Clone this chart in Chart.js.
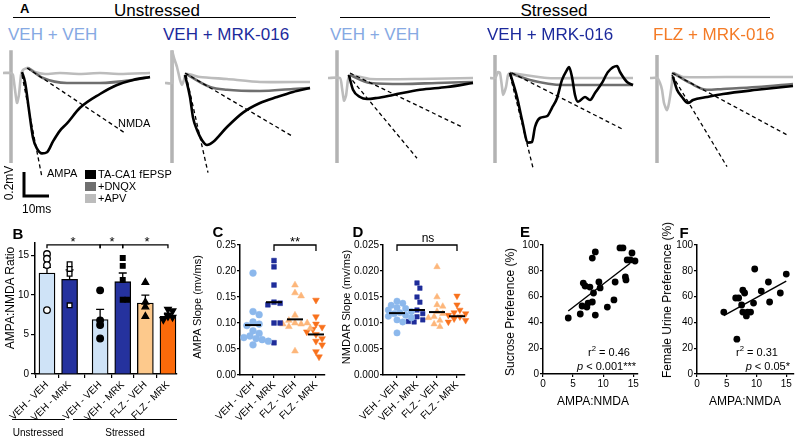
<!DOCTYPE html>
<html><head><meta charset="utf-8">
<script src="https://cdn.jsdelivr.net/npm/chart.js@4.4.1/dist/chart.umd.min.js"></script>
<style>
body{margin:0;background:#fff;}
#fig{position:relative;width:798px;height:440px;overflow:hidden;font-family:"Liberation Sans",Arial,sans-serif;color:#000;background:#fff;}
#fig canvas{position:absolute;z-index:1;}
.t{position:absolute;white-space:nowrap;line-height:1;z-index:2;}
.c{transform:translate(-50%,-50%);}
.l{transform:translate(0,-50%);}
.r{transform:translate(-100%,-50%);}
.v{transform:translate(-50%,-50%) rotate(-90deg);}
.hl{position:absolute;height:0;border-top:1.5px solid #000;z-index:2;}
.sw{position:absolute;width:11px;height:9px;z-index:2;}
.b{font-weight:bold;font-size:15px;}
sup{font-size:70%;line-height:0;}
</style></head><body><div id="fig">
<div class="t l" style="left:20px;top:8px;font-size:13px;font-weight:bold">A</div>
<div class="t c" style="left:157px;top:10px;font-size:17px">Unstressed</div>
<div class="hl" style="left:13px;top:17px;width:283px"></div>
<div class="t c" style="left:554px;top:10px;font-size:17px">Stressed</div>
<div class="hl" style="left:340px;top:17px;width:430px"></div>
<div class="t l" style="left:8px;top:34px;font-size:17px;color:#86a9e3">VEH + VEH</div>
<div class="t l" style="left:163px;top:34px;font-size:17px;color:#1c2a9c">VEH + MRK-016</div>
<div class="t l" style="left:330px;top:34px;font-size:17px;color:#86a9e3">VEH + VEH</div>
<div class="t l" style="left:487px;top:34px;font-size:17px;color:#1c2a9c">VEH + MRK-016</div>
<div class="t l" style="left:653px;top:34px;font-size:17px;color:#f47b26">FLZ + MRK-016</div>
<div class="t l" style="left:118px;top:123px;font-size:11px">NMDA</div>
<div class="t l" style="left:47px;top:173px;font-size:11px">AMPA</div>
<div class="sw" style="left:85px;top:170px;background:#000"></div>
<div class="t l" style="left:98px;top:174px;font-size:11px">TA-CA1 fEPSP</div>
<div class="sw" style="left:85px;top:182px;background:#6f6f6f"></div>
<div class="t l" style="left:98px;top:186px;font-size:11px">+DNQX</div>
<div class="sw" style="left:85px;top:194px;background:#bcbcbc"></div>
<div class="t l" style="left:98px;top:198px;font-size:11px">+APV</div>
<div class="t v" style="left:9px;top:183px;font-size:12px">0.2mV</div>
<div class="t l" style="left:22px;top:209px;font-size:12px">10ms</div>

<div class="t c b" style="left:18px;top:233px">B</div>
<div class="t c b" style="left:218px;top:231px">C</div>
<div class="t c b" style="left:358px;top:231px">D</div>
<div class="t c b" style="left:525px;top:231px">E</div>
<div class="t c b" style="left:684px;top:232px">F</div>

<div class="t v" style="left:10px;top:298px;font-size:12px">AMPA:NMDA Ratio</div>
<div class="t v" style="left:197px;top:307px;font-size:11px">AMPA Slope (mv/ms)</div>
<div class="t v" style="left:346px;top:307px;font-size:11px">NMDAR Slope (mv/ms)</div>
<div class="t v" style="left:510px;top:312px;font-size:12px">Sucrose Preference (%)</div>
<div class="t v" style="left:667px;top:300px;font-size:12px">Female Urine Preference (%)</div>
<div class="t c" style="left:593px;top:401px;font-size:12px">AMPA:NMDA</div>
<div class="t c" style="left:745px;top:401px;font-size:12px">AMPA:NMDA</div>

<div class="t c" style="left:73px;top:241px;font-size:13px">*</div>
<div class="t c" style="left:112px;top:241px;font-size:13px">*</div>
<div class="t c" style="left:147px;top:241px;font-size:13px">*</div>
<div class="t c" style="left:295px;top:241px;font-size:13px">**</div>
<div class="t c" style="left:428px;top:238px;font-size:12px">ns</div>

<div class="t r" style="left:630px;top:352px;font-size:11px">r<sup>2</sup> = 0.46</div>
<div class="t r" style="left:636px;top:366px;font-size:11px"><i>p</i> &lt; 0.001***</div>
<div class="t r" style="left:778px;top:352px;font-size:11px">r<sup>2</sup> = 0.31</div>
<div class="t r" style="left:790px;top:366px;font-size:11px"><i>p</i> &lt; 0.05*</div>

<div class="hl" style="left:12px;top:419px;width:53px"></div>
<div class="t c" style="left:38px;top:433px;font-size:10px">Unstressed</div>
<div class="hl" style="left:73px;top:419px;width:104px"></div>
<div class="t c" style="left:125px;top:433px;font-size:10px">Stressed</div>
</div>
<script>
// ---------- A: TA-CA1 field potentials, points are [ms after stimulus, mV] ----------
const stimTop = [0.19, 0.19, 0.19, 0.15, 0.15];
const stimBottom = [-0.75, -0.75, -0.75, -0.75, -0.75];
const apv = [
  [[-3.2,0],[0.05,0],[0.8,-0.017],[1.6,-0.14],[2.4,-0.25],[3.2,-0.18],[4.0,-0.017],[4.8,0.025],[6.8,0.042],[9.6,0.008],[13.6,-0.008],[19.6,0],[27.6,-0.008],[35.6,0],[43.6,-0.008],[55.6,0]],
  [[-2.8,-0.083],[0.05,-0.083],[0.1,0.175],[0.8,0.125],[2,0.05],[3.2,-0.058],[4,-0.1],[4.8,-0.058],[5.6,-0.008],[11.2,-0.033],[22,-0.05],[35.2,-0.075],[55.2,-0.075]],
  [[-3.6,-0.042],[1.2,-0.042],[2,-0.125],[2.8,-0.23],[3.6,-0.19],[4.4,-0.058],[5.2,-0.017],[13.2,-0.05],[33.2,-0.05],[54.4,-0.042]],
  [[-2,-0.042],[0.05,-0.042],[1.2,0.008],[2,0],[2.8,-0.117],[3.2,-0.183],[4.4,-0.117],[5.2,-0.017],[6,0],[20.8,-0.042],[34,-0.042],[55.2,-0.042]],
  [[-2.8,-0.042],[0.05,-0.042],[1.2,-0.083],[2,-0.14],[2.8,-0.25],[4,-0.31],[4.8,-0.25],[6,-0.083],[6.4,0],[10.4,-0.033],[33.2,-0.033],[54.4,-0.033]]
];
const dnqx = [
  [[6.8,0.042],[12.8,-0.042],[22.4,-0.083],[35.6,-0.083],[48.8,-0.058],[55.6,-0.033]],
  [[5.6,-0.008],[15.2,-0.117],[22,-0.14],[35.2,-0.15],[48.4,-0.133],[55.2,-0.125]],
  [[5.2,-0.017],[13.2,-0.083],[26.4,-0.092],[40,-0.083],[54.4,-0.075]],
  [[6,0],[14,-0.058],[27.2,-0.1],[40.8,-0.1],[55.2,-0.1]],
  [[6.4,0],[13.2,-0.083],[20,-0.14],[26.4,-0.133],[40,-0.117],[54.4,-0.092]]
];
const fepsp = [
  [[4.4,0.008],[5.6,-0.075],[7.2,-0.31],[8.8,-0.54],[10.4,-0.63],[12.4,-0.67],[14.4,-0.66],[16.8,-0.57],[19.6,-0.48],[22.4,-0.42],[27.6,-0.29],[35.6,-0.175],[42.4,-0.1],[48.8,-0.058],[55.6,-0.033]],
  [[5.2,-0.017],[7.2,-0.2],[8.4,-0.37],[10,-0.475],[12,-0.56],[14,-0.6],[16.4,-0.575],[22,-0.45],[28.4,-0.33],[35.2,-0.25],[42,-0.2],[48.4,-0.158],[55.2,-0.125]],
  [[4.8,-0.02],[6.4,-0.14],[9.2,-0.2],[12,-0.217],[16,-0.208],[22.4,-0.183],[33.2,-0.14],[44,-0.117],[54.4,-0.083]],
  [[6,0],[8.8,-0.2],[10.8,-0.39],[13.2,-0.58],[14.8,-0.575],[16,-0.45],[18,-0.375],[20.8,-0.36],[22.8,-0.29],[24.8,-0.21],[26.8,-0.058],[28.8,0.025],[29.6,0.05],[30.8,-0.033],[32,-0.183],[33.2,-0.24],[36,-0.2],[38,-0.225],[40,-0.167],[42.8,-0.083],[45.2,0.008],[48.8,0.058],[50,0.008],[52.8,-0.075],[55.2,-0.1]],
  [[6.4,-0.033],[8,-0.14],[10,-0.2],[12.4,-0.25],[14.4,-0.225],[20,-0.2],[26.4,-0.175],[40,-0.14],[54.4,-0.108]]
];
const ampaSlopeLine = [
  [[4.4,-0.017],[12.4,-0.87]], [[5.6,-0.017],[14.4,-0.83]], [[4.4,-0.017],[32,-0.71]], [[6,-0.017],[15.2,-0.79]], [[6,-0.017],[28,-0.78]]
];
const nmdaSlopeLine = [
  [[6.4,0.042],[45.6,-0.5]], [[5.2,0],[48.4,-0.53]], [[5.2,0],[50,-0.45]], [[6.8,0],[51.2,-0.47]], [[6,0],[52.4,-0.52]]
];
const scaleBarMs = 10, scaleBarMv = 0.2, scaleBarAt = [5.2, -1.025];

// ---------- B: AMPA:NMDA ratio ----------
const groupsB = ['VEH - VEH','VEH - MRK','VEH - VEH','VEH - MRK','FLZ - VEH','FLZ - MRK'];
const ratioMean = [12.8, 12.0, 6.9, 11.7, 9.0, 7.3];
const ratioSem = [0.7, 1.2, 1.3, 1.1, 1.0, 0.4];
const ratioPoints = [
  [15.2, 14.6, 13.8, 8.1],
  [13.9, 13.3, 12.7, 8.7],
  [10.6, 6.8, 6.2, 4.5],
  [14.7, 13.7, 11.9, 9.4, 9.4],
  [11.6, 9.1, 8.5, 7.3],
  [8.2, 8.0, 7.3, 7.2, 6.9]
];

// ---------- C / D: slopes ----------
const groupsCD = ['VEH - VEH','VEH - MRK','FLZ - VEH','FLZ - MRK'];
const ampaSlope = [
  [0.196,0.122,0.116,0.102,0.098,0.095,0.085,0.080,0.075,0.072,0.070,0.068,0.065,0.058],
  [0.220,0.208,0.173,0.140,0.138,0.135,0.100,0.100,0.062],
  [0.173,0.158,0.152,0.115,0.100,0.098,0.105,0.100,0.098,0.093,0.090,0.046],
  [0.144,0.112,0.098,0.092,0.088,0.083,0.078,0.070,0.065,0.058,0.045,0.035]
];
const ampaMean = [0.096, 0.140, 0.107, 0.078];
const nmdaSlope = [
  [0.0142,0.0138,0.0134,0.0130,0.0128,0.0125,0.0122,0.0120,0.0118,0.0115,0.0113,0.0110,0.0106,0.0102,0.0081],
  [0.0177,0.0167,0.0150,0.0140,0.0125,0.0118,0.0112,0.0106,0.0102,0.0103],
  [0.0208,0.0150,0.0135,0.0132,0.0122,0.0118,0.0112,0.0110,0.0105,0.0098,0.0093],
  [0.0152,0.0135,0.0125,0.0120,0.0118,0.0115,0.0112,0.0110,0.0108,0.0105,0.0102]
];
const nmdaMean = [0.0119, 0.0125, 0.0121, 0.0113];

// ---------- E / F: behaviour vs AMPA:NMDA ----------
const ratioE = [4.2,6.2,6.5,7.3,6.7,7.0,7.8,7.5,8.2,8.4,8.2,8.7,8.7,9.3,9.5,10.7,11.8,12.0,12.8,13.3,13.7,13.8,14.0,14.8,14.5,15.3];
const sucrose = [43.4,46.5,52.7,51.9,70.5,68.2,67.4,55.0,55.8,62.8,89.9,94.6,45.7,71.3,66.7,51.9,57.4,71.3,97.7,97.7,75.2,72.9,88.4,93.8,88.4,87.6];
const fitE = [3.6, 33.7], fitRangeE = [4.2, 14.5];
const ratioF = [4.5,6.5,7.0,6.7,7.5,7.7,8.0,7.7,8.3,8.5,9.0,9.5,9.7,10.8,12.0,12.2,14.0,15.0];
const urine = [48.0,58.9,58.9,27.0,53.5,65.0,62.8,48.0,45.0,48.0,48.0,55.0,81.4,64.3,71.3,55.8,62.8,77.5];
const fitF = [2.55, 33.7], fitRangeF = [4.5, 15.0];

// ---------- setup ----------
Chart.defaults.font.family = '"Liberation Sans", Arial, sans-serif';
Chart.defaults.color = '#000';
Chart.defaults.animation = false;
Chart.defaults.events = [];
Chart.defaults.plugins.legend.display = false;
Chart.defaults.plugins.tooltip.enabled = false;

const fig = document.getElementById('fig');
function mk(left, top, w, h){
  const c = document.createElement('canvas');
  c.width = w; c.height = h;
  c.style.left = left + 'px'; c.style.top = top + 'px';
  c.style.width = w + 'px'; c.style.height = h + 'px';
  fig.appendChild(c);
  return c;
}
const xy = a => a.map(([x,y]) => ({x, y}));

// extra marks drawn through the scales: error bars, mean lines, brackets
const extras = {
  id: 'extras',
  beforeDatasetsDraw(chart, args, o){
    const {ctx} = chart, sx = chart.scales.x, sy = chart.scales.y;
    if(!o.errors) return;
    ctx.save(); ctx.strokeStyle = '#000'; ctx.lineWidth = 1.3;
    o.errors.forEach(e => {
      const px = sx.getPixelForValue(e.x), p0 = sy.getPixelForValue(e.from), p1 = sy.getPixelForValue(e.to);
      ctx.beginPath(); ctx.moveTo(px, p0); ctx.lineTo(px, p1);
      ctx.moveTo(px - 4, p1); ctx.lineTo(px + 4, p1); ctx.stroke();
    });
    ctx.restore();
  },
  afterDatasetsDraw(chart, args, o){
    const {ctx} = chart, sx = chart.scales.x, sy = chart.scales.y;
    ctx.save(); ctx.strokeStyle = '#000';
    (o.means || []).forEach(m => {
      const px = sx.getPixelForValue(m.x), py = sy.getPixelForValue(m.y);
      ctx.lineWidth = 2; ctx.beginPath(); ctx.moveTo(px - 8, py); ctx.lineTo(px + 8, py); ctx.stroke();
    });
    (o.brackets || []).forEach(b => {
      const a = sx.getPixelForValue(b[0]), c = sx.getPixelForValue(b[1]);
      const top = sy.getPixelForValue(o.bracketY), bot = sy.getPixelForValue(o.bracketDrop);
      ctx.lineWidth = 1.3; ctx.beginPath();
      ctx.moveTo(a, bot); ctx.lineTo(a, top); ctx.lineTo(c, top); ctx.lineTo(c, bot); ctx.stroke();
    });
    ctx.restore();
  }
};

// simple beeswarm: spread points sideways (in px) so markers do not overlap
function swarm(values, center, sx, sy, d){
  const placed = [];
  return values.map(v => {
    let off = 0;
    for(let k = 0; k < 24; k++){
      const o = (k % 2 ? 1 : -1) * Math.ceil(k / 2) * d * 0.5;
      if(placed.every(p => Math.hypot(p.o - o, (p.v - v) * sy) >= d * 0.95)){ off = o; break; }
    }
    placed.push({o: off, v});
    return {x: center + off / sx, y: v};
  });
}

const axisGrid = len => ({display:true, drawOnChartArea:false, drawTicks:true, tickLength:len, color:'#000', lineWidth:1.2});
const axisBorder = {display:true, color:'#000', width:1.5};
const fixY = w => s => { s.width = w; s.paddingTop = 0; s.paddingBottom = 0; };
const fixX = h => s => { s.height = h; s.paddingLeft = 0; s.paddingRight = 0; };

// ---------- A ----------
const traceLeft = [0, 161, 326, 484, 646];
traceLeft.forEach((left, i) => {
  const ds = [
    {data: xy([[0, stimTop[i]], [0, stimBottom[i]]]), borderColor:'#b3b3b3', borderWidth:3.5, order:7},
    {data: xy(apv[i]), borderColor:'#bcbcbc', borderWidth:2.6, tension:0.2, order:6},
    {data: xy(dnqx[i]), borderColor:'#6f6f6f', borderWidth:2.6, cubicInterpolationMode:'monotone', order:5},
    {data: xy(fepsp[i]), borderColor:'#000', borderWidth:2.6, cubicInterpolationMode:'monotone', order:4},
    {data: xy(ampaSlopeLine[i]), borderColor:'#000', borderWidth:1.3, borderDash:[4,3], order:2},
    {data: xy(nmdaSlopeLine[i]), borderColor:'#000', borderWidth:1.3, borderDash:[4,3], order:1}
  ];
  if(i === 0){
    const [x0, y0] = scaleBarAt;
    ds.push({data: xy([[x0, y0 + scaleBarMv], [x0, y0], [x0 + scaleBarMs, y0]]), borderColor:'#000', borderWidth:3, borderJoinStyle:'miter', order:0});
  }
  new Chart(mk(left, 45, 160, 155), {
    type:'line',
    data:{datasets: ds.map(d => Object.assign({pointRadius:0, clip:false, fill:false}, d))},
    options:{
      responsive:false, devicePixelRatio:1, layout:{padding:0},
      scales:{
        x:{type:'linear', display:false, min:-4.4, max:59.6},
        y:{type:'linear', display:false, min:-1.058, max:0.233}
      }
    }
  });
});

// ---------- B ----------
const barSlots = [1, 2, 3.35, 4.35, 5.35, 6.35];
const barFill = ['#cfe3f7','#25329e','#cfe3f7','#25329e','#fdc98c','#fb6a0a'];
const ptStyleB = ['circle','rect','circle','rect','triangle','triangle'];
const ptRotB = [0,0,0,0,0,180];
const ptFillB = ['#fff','#fff','#000','#000','#000','#000'];
new Chart(mk(0, 225, 185, 215), {
  type:'bar',
  data:{datasets:[
    {type:'bar', data: barSlots.map((x, i) => ({x, y: ratioMean[i]})), backgroundColor: barFill,
     borderColor:'#000', borderWidth:1.3, barThickness:16, order:2},
    ...ratioPoints.map((vals, i) => ({
      type:'scatter', data: swarm(vals, barSlots[i], 22.6, 7.87, 4.6),
      pointStyle: ptStyleB[i], rotation: ptRotB[i], pointRadius: ptStyleB[i] === 'triangle' ? 3.8 : 3.3,
      backgroundColor: ptFillB[i], borderColor:'#000', borderWidth:1.3, order:1, clip:false
    }))
  ]},
  options:{
    responsive:false, devicePixelRatio:1,
    layout:{padding:{top:18, right:8, left:0, bottom:0}},
    plugins:{extras:{
      errors: barSlots.map((x, i) => ({x, from: ratioMean[i], to: ratioMean[i] + ratioSem[i]})),
      brackets: [[barSlots[0], barSlots[2]], [barSlots[2], barSlots[3]], [barSlots[3], barSlots[5]]],
      bracketY: 16.35, bracketDrop: 15.95
    }},
    scales:{
      x:{type:'linear', min:0.47, max:6.75, offset:false,
         afterBuildTicks: s => { s.ticks = barSlots.map(v => ({value: v})); },
         ticks:{autoSkip:false, minRotation:45, maxRotation:45, font:{size:10}, padding:1, callback:(v, i) => groupsB[i]},
         grid: axisGrid(4), border: axisBorder, afterFit: fixX(66)},
      y:{min:0, max:16.6, ticks:{stepSize:5, includeBounds:false, font:{size:10}, padding:2},
         grid: axisGrid(4), border: axisBorder, afterFit: fixY(35)}
    }
  },
  plugins:[extras]
});

// ---------- C / D ----------
const ptStyleCD = ['circle','rect','triangle','triangle'];
const ptRotCD = [0,0,0,180];
const ptFillCD = ['#8cb8ec','#1f2d9a','#fdb67a','#f8711c'];
function slopeChart(left, width, yw, padRight, xr, vals, means, ymax, step, dec, sy, radius, bracket){
  new Chart(mk(left, 225, width, 215), {
    type:'scatter',
    data:{datasets: vals.map((v, i) => ({
      data: swarm(v, i + 1, xr.px, sy, radius * 1.8),
      pointStyle: ptStyleCD[i], rotation: ptRotCD[i], pointRadius: ptStyleCD[i] === 'triangle' ? radius + 0.5 : radius,
      backgroundColor: ptFillCD[i], borderColor: ptFillCD[i], borderWidth:0.5, clip:false
    }))},
    options:{
      responsive:false, devicePixelRatio:1,
      layout:{padding:{top:20, right:padRight, left:0, bottom:0}},
      plugins:{extras:{
        means: means.map((m, i) => ({x: i + 1, y: m})),
        brackets: [bracket], bracketY: ymax, bracketDrop: ymax - 6 / sy
      }},
      scales:{
        x:{type:'linear', min:xr.min, max:xr.max, offset:false,
           afterBuildTicks: s => { s.ticks = groupsCD.map((g, i) => ({value: i + 1})); },
           ticks:{autoSkip:false, minRotation:45, maxRotation:45, font:{size:10}, padding:1, callback:(v, i) => groupsCD[i]},
           grid: axisGrid(3), border: axisBorder, afterFit: fixX(65)},
        y:{min:0, max:ymax, ticks:{stepSize:step, includeBounds:false, font:{size:10}, padding:1, callback: v => v.toFixed(dec)},
           grid: axisGrid(3), border: axisBorder, afterFit: fixY(yw)}
      }
    },
    plugins:[extras]
  });
}
slopeChart(200, 133, 40, 8, {min:0.38, max:4.43, px:21}, ampaSlope, ampaMean, 0.25, 0.05, 2, 520, 3.4, [2, 4]);
slopeChart(350, 121, 33, 6, {min:0.3, max:4.4, px:20}, nmdaSlope, nmdaMean, 0.025, 0.005, 3, 5200, 3.2, [1, 4]);

// ---------- E / F ----------
function corrChart(left, width, yw, padRight, xmax, xs, ys, fit, range){
  new Chart(mk(left, 225, width, 215), {
    type:'scatter',
    data:{datasets:[
      {data: xs.map((x, i) => ({x, y: ys[i]})), pointRadius:3.4, backgroundColor:'#000', borderColor:'#000', borderWidth:0, clip:false, order:1},
      {data: range.map(x => ({x, y: fit[0] * x + fit[1]})), showLine:true, pointRadius:0, borderColor:'#000', borderWidth:1.4, order:0}
    ]},
    options:{
      responsive:false, devicePixelRatio:1,
      layout:{padding:{top:20, right:padRight, left:0, bottom:0}},
      scales:{
        x:{type:'linear', min:0, max:xmax, ticks:{stepSize:5, includeBounds:false, font:{size:10}, padding:1},
           grid: axisGrid(3), border: axisBorder, afterFit: fixX(66)},
        y:{min:0, max:100, ticks:{stepSize:20, includeBounds:false, font:{size:10}, padding:1},
           grid: axisGrid(3), border: axisBorder, afterFit: fixY(yw)}
      }
    }
  });
}
corrChart(505, 137, 38, 4, 15.8, ratioE, sucrose, fitE, fitRangeE);
corrChart(660, 138, 37, 3, 16.3, ratioF, urine, fitF, fitRangeF);
</script>
</body></html>
